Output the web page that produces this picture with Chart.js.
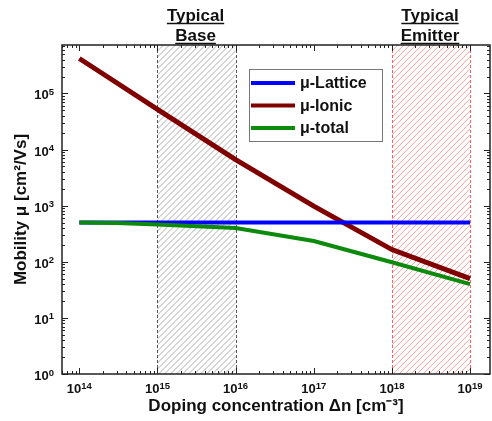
<!DOCTYPE html>
<html>
<head>
<meta charset="utf-8">
<script src="https://cdn.jsdelivr.net/npm/chart.js@4/dist/chart.umd.min.js"></script>
<style>
  html, body { margin: 0; padding: 0; background: #fff; }
  #wrap { width: 492px; height: 421px; }
</style>
</head>
<body>
<div id="wrap"><canvas id="grafico" width="492" height="421"></canvas></div>
<script>
// dados
const dopagem = [1e14, 3e14, 1e15, 1e16, 1e17, 1e18, 1e19];
const muLattice = [500, 500, 500, 500, 500, 500, 500];
const muIonic = [420000, 155000, 52000, 6600, 980, 165, 50];
const muTotal = [500, 490, 462, 400, 235, 98, 40];

const nomes = ["μ-Lattice", "μ-Ionic", "μ-total"];
const cores = ["#0000ff", "#800000", "#0b8a0b"];
const espessuras = [4, 5, 4];

const expoentesX = [14, 15, 16, 17, 18, 19];
const expoentesY = [0, 1, 2, 3, 4, 5];

// regioes tipicas [inicio, fim]
const regiaoBase = [1e15, 1e16];
const regiaoEmissor = [1e18, 1e19];
const tituloBase = ["Typical", "Base"];
const tituloEmissor = ["Typical", "Emitter"];

const fonte = '"Liberation Sans", Arial, sans-serif';

function pontos(serie) {
  return serie.map((v, i) => ({ x: dopagem[i], y: v }));
}

// escreve 10^n com expoente menor e elevado
function potencia(ctx, v, x, y, alinh) {
  let e = String(Math.round(Math.log10(v)));
  ctx.font = "bold 13px " + fonte;
  let wb = ctx.measureText("10").width;
  ctx.font = "bold 9.5px " + fonte;
  let we = ctx.measureText(e).width;
  let x0 = alinh == "right" ? x - wb - we : x - (wb + we) / 2;
  ctx.textAlign = "left";
  ctx.textBaseline = "alphabetic";
  ctx.font = "bold 13px " + fonte;
  ctx.fillText("10", x0, y);
  ctx.font = "bold 9.5px " + fonte;
  ctx.fillText(e, x0 + wb, y - 4.5);
}

// hachura + titulos das regioes
const regioes = {
  id: "regioes",
  beforeDatasetsDraw(chart) {
    const ctx = chart.ctx;
    const a = chart.chartArea;
    const x = chart.scales.x;
    let lista = [
      { r: regiaoBase, hach: "rgba(120,120,120,0.6)", borda: "#555" },
      { r: regiaoEmissor, hach: "rgba(255,120,120,0.7)", borda: "#ff6060" },
    ];
    lista.forEach((item) => {
      let x0 = x.getPixelForValue(item.r[0]);
      let x1 = x.getPixelForValue(item.r[1]);
      ctx.save();
      ctx.beginPath();
      ctx.rect(x0, a.top, x1 - x0, a.bottom - a.top);
      ctx.clip();
      ctx.strokeStyle = item.hach;
      ctx.lineWidth = 1;
      let h = a.bottom - a.top;
      for (let s = x0 - h; s < x1 + 6; s += 6) {
        ctx.beginPath();
        ctx.moveTo(s, a.bottom);
        ctx.lineTo(s + h, a.top);
        ctx.stroke();
      }
      ctx.restore();
      ctx.save();
      ctx.strokeStyle = item.borda;
      ctx.lineWidth = 1;
      ctx.setLineDash([3, 2]);
      [x0, x1].forEach((xx) => {
        ctx.beginPath();
        ctx.moveTo(Math.round(xx) + 0.5, a.top);
        ctx.lineTo(Math.round(xx) + 0.5, a.bottom);
        ctx.stroke();
      });
      ctx.restore();
    });
  },
  afterDraw(chart) {
    const ctx = chart.ctx;
    const x = chart.scales.x;
    ctx.save();
    ctx.font = "bold 17px " + fonte;
    ctx.fillStyle = "#111";
    ctx.strokeStyle = "#111";
    ctx.lineWidth = 1.5;
    ctx.textAlign = "center";
    ctx.textBaseline = "alphabetic";
    [[regiaoBase, tituloBase], [regiaoEmissor, tituloEmissor]].forEach((par) => {
      let cx = (x.getPixelForValue(par[0][0]) + x.getPixelForValue(par[0][1])) / 2 - 1;
      par[1].forEach((t, i) => {
        let yb = 21 + i * 20;
        ctx.fillText(t, cx, yb);
        let w = ctx.measureText(t).width;
        ctx.beginPath();
        ctx.moveTo(cx - w / 2, yb + 2.5);
        ctx.lineTo(cx + w / 2, yb + 2.5);
        ctx.stroke();
      });
    });
    ctx.restore();
  },
};

// moldura com ticks para dentro nos 4 lados
const moldura = {
  id: "moldura",
  afterDatasetsDraw(chart) {
    const ctx = chart.ctx;
    const a = chart.chartArea;
    const sx = chart.scales.x;
    const sy = chart.scales.y;
    ctx.save();
    ctx.strokeStyle = "#222";
    ctx.lineWidth = 1.5;
    ctx.strokeRect(a.left, a.top, a.right - a.left, a.bottom - a.top);
    ctx.lineWidth = 1;
    for (let d = 13; d <= 19; d++) {
      for (let m = 1; m <= 9; m++) {
        let v = m * Math.pow(10, d);
        if (v < sx.min || v > sx.max) continue;
        let px = Math.round(sx.getPixelForValue(v)) + 0.5;
        let len = m == 1 ? 6 : 3;
        ctx.beginPath();
        ctx.moveTo(px, a.bottom);
        ctx.lineTo(px, a.bottom - len);
        ctx.moveTo(px, a.top);
        ctx.lineTo(px, a.top + len);
        ctx.stroke();
      }
    }
    for (let d = 0; d <= 5; d++) {
      for (let m = 1; m <= 9; m++) {
        let v = m * Math.pow(10, d);
        if (v < sy.min || v > sy.max) continue;
        let py = Math.round(sy.getPixelForValue(v)) + 0.5;
        let len = m == 1 ? 6 : 3;
        ctx.beginPath();
        ctx.moveTo(a.left, py);
        ctx.lineTo(a.left + len, py);
        ctx.moveTo(a.right, py);
        ctx.lineTo(a.right - len, py);
        ctx.stroke();
      }
    }
    ctx.restore();
  },
  afterDraw(chart) {
    const ctx = chart.ctx;
    const a = chart.chartArea;
    ctx.save();
    ctx.fillStyle = "#111";
    // rotulos dos eixos
    chart.scales.x.ticks.forEach((t) => {
      potencia(ctx, t.value, chart.scales.x.getPixelForValue(t.value), a.bottom + 19, "center");
    });
    chart.scales.y.ticks.forEach((t) => {
      potencia(ctx, t.value, a.left - 8, chart.scales.y.getPixelForValue(t.value) + 6, "right");
    });

    // legenda dentro do grafico
    ctx.fillStyle = "#fff";
    ctx.fillRect(249, 69, 133, 72);
    ctx.strokeStyle = "#777";
    ctx.lineWidth = 1;
    ctx.strokeRect(249.5, 69.5, 133, 72);
    ctx.font = "bold 16px " + fonte;
    ctx.textBaseline = "middle";
    ctx.textAlign = "left";
    chart.data.datasets.forEach((ds, i) => {
      let y = 83 + i * 22.5;
      ctx.strokeStyle = ds.borderColor;
      ctx.lineWidth = 4;
      ctx.beginPath();
      ctx.moveTo(251, y);
      ctx.lineTo(295, y);
      ctx.stroke();
      ctx.fillStyle = "#111";
      ctx.fillText(ds.label, 300, y + 1);
    });
    ctx.restore();
  },
};

const ctx = document.getElementById("grafico");
window.meuGrafico = new Chart(ctx, {
  type: "line",
  data: {
    datasets: [
      { label: nomes[0], data: pontos(muLattice), borderColor: cores[0], borderWidth: espessuras[0], order: 1 },
      { label: nomes[1], data: pontos(muIonic), borderColor: cores[1], borderWidth: espessuras[1], order: 2 },
      { label: nomes[2], data: pontos(muTotal), borderColor: cores[2], borderWidth: espessuras[2], order: 0 },
    ],
  },
  options: {
    responsive: false,
    devicePixelRatio: 1,
    animation: false,
    layout: { padding: { top: 45, right: 2, left: 0, bottom: 0 } },
    elements: {
      point: { radius: 0 },
      line: { tension: 0, borderCapStyle: "butt" },
    },
    plugins: { legend: { display: false }, tooltip: { enabled: false } },
    scales: {
      x: {
        type: "logarithmic",
        min: 6e13,
        max: 1.8e19,
        grid: { display: false, drawTicks: false },
        border: { display: false },
        afterBuildTicks: (s) => {
          s.ticks = expoentesX.map((e) => ({ value: Math.pow(10, e) }));
        },
        afterFit: (s) => {
          s.height = 47;
        },
        ticks: { display: false },
        title: {
          display: true,
          text: "Doping concentration Δn [cm⁻³]",
          color: "#111",
          font: { family: fonte, size: 17, weight: "bold" },
          padding: { top: 0, bottom: 4 },
        },
      },
      y: {
        type: "logarithmic",
        min: 1,
        max: 7.3e5,
        grid: { display: false, drawTicks: false },
        border: { display: false },
        afterBuildTicks: (s) => {
          s.ticks = expoentesY.map((e) => ({ value: Math.pow(10, e) }));
        },
        afterFit: (s) => {
          s.width = 62;
        },
        ticks: { display: false },
        title: {
          display: true,
          text: "Mobility μ [cm²/Vs]",
          color: "#111",
          font: { family: fonte, size: 17, weight: "bold" },
          padding: { top: 11, bottom: 0 },
        },
      },
    },
  },
  plugins: [regioes, moldura],
});
</script>
</body>
</html>
